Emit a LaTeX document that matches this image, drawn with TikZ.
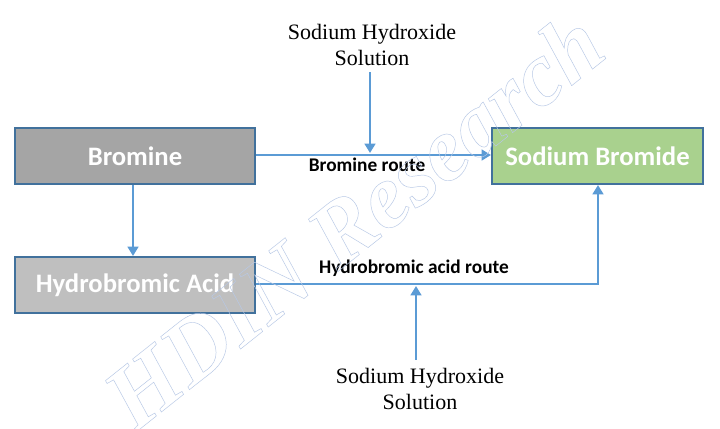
\documentclass[tikz,border=0pt]{standalone}
\usepackage{fontspec}
\setmainfont{Liberation Serif}
\newfontfamily\calibri{Carlito}
\usetikzlibrary{arrows.meta}
\definecolor{boxline}{HTML}{41719C}
\definecolor{arrowc}{HTML}{5B9BD5}
\definecolor{brgray}{HTML}{A5A5A5}
\definecolor{hbrgray}{HTML}{BFBFBF}
\definecolor{nagreen}{HTML}{A9D18E}
\definecolor{wmark}{HTML}{B7C8E6}
\tikzset{
  chembox/.style={draw=boxline, line width=1.5pt, minimum height=42pt, inner sep=0pt,
    text=white, font=\calibri\bfseries\fontsize{20}{24}\selectfont, anchor=north west},
  flow/.style={draw=arrowc, line width=2.2pt, -{Triangle[length=7pt,width=8pt]}},
  routelabel/.style={font=\calibri\bfseries\fontsize{14.5}{17}\selectfont, inner sep=0pt},
  reagent/.style={font=\fontsize{16.5}{20}\selectfont, align=center, inner sep=0pt},
  watermark/.style={text=wmark, rotate=38.5, inner sep=0pt, font=\bfseries\itshape\fontsize{68}{68}\selectfont}
}
\begin{document}
\begin{tikzpicture}[x=0.75pt,y=-0.75pt]
\useasboundingbox (0,0) rectangle (720,428);
\fill[white] (0,0) rectangle (720,428);
% boxes
\node[chembox, fill=brgray, minimum width=180pt] (br) at (14,127) {Bromine};
\node[chembox, fill=nagreen, minimum width=158.25pt] (nabr) at (491,127) {Sodium Bromide};
\node[chembox, fill=hbrgray, minimum width=180pt] (hbr) at (14,256) {Hydrobromic Acid};
% reagent labels
\node[reagent] (naoh1) at (372,45) {Sodium Hydroxide\\Solution};
\node[reagent] (naoh2) at (420,389) {Sodium Hydroxide\\Solution};
% route labels
\node[routelabel] (rl1) at (367,165) {Bromine route};
\node[routelabel] (rl2) at (414,268) {Hydrobromic acid route};
% connectors
\draw[flow] (br.east |- 0,155) -- (nabr.west |- 0,155);
\coordinate (j1) at (370,153);
\draw[flow] (naoh1.south -| 370,0) ++(0,6) -- (j1);
\draw[flow] (br.south -| 133,0) -- (hbr.north -| 133,0);
\coordinate (c1) at (598,284);
\draw[flow] (hbr.east |- 0,284) -- (c1) -- (nabr.south -| 598,0);
\coordinate (j2) at (416,286);
\draw[flow] (naoh2.north -| 416,0) ++(0,-8) -- (j2);
% watermark (outlined text, on top)
\node[watermark] (wm) at (353,220) {\special{pdf:literal direct 1 Tr 0.35 w}HDIN Research\special{pdf:literal direct 0 Tr}};
\end{tikzpicture}
\end{document}
